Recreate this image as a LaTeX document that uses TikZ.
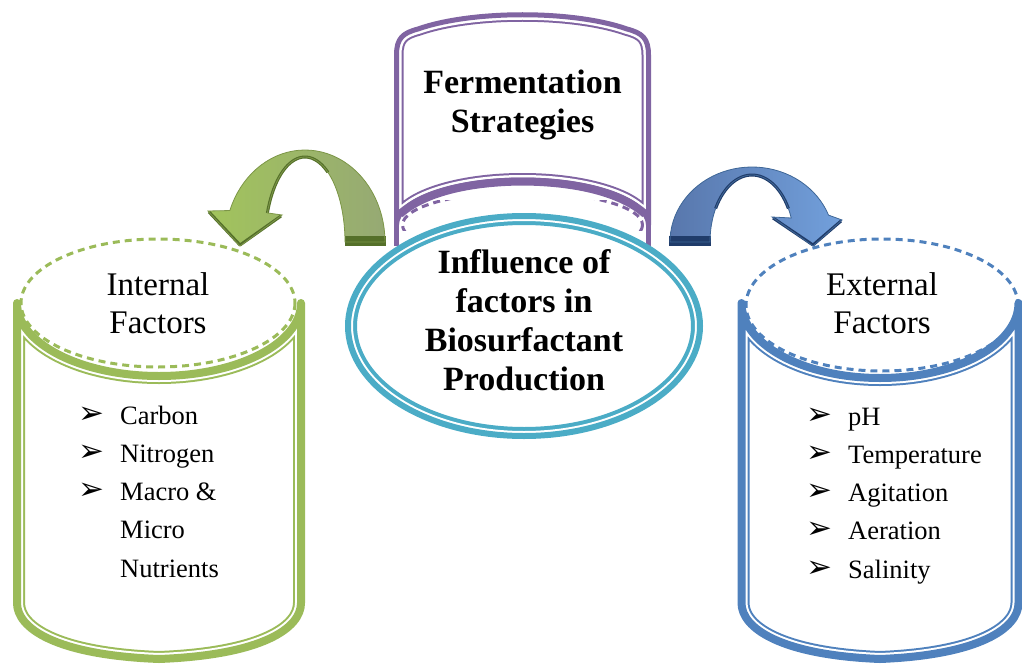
\documentclass[tikz,border=0pt]{standalone}
\usepackage{fontspec}
\setmainfont{Liberation Serif}
\newfontfamily\symfont{DejaVu Sans}
\definecolor{cgreen}{HTML}{9BBB59}
\definecolor{cgreenA}{HTML}{A2C45C}
\definecolor{cgreenB}{HTML}{96A974}
\definecolor{cgreenD}{HTML}{55702A}
\definecolor{cblue}{HTML}{4F81BD}
\definecolor{cblueA}{HTML}{5877AC}
\definecolor{cblueB}{HTML}{72A0DC}
\definecolor{cblueD}{HTML}{203C6A}
\definecolor{cpurple}{HTML}{8064A2}
\definecolor{ccyan}{HTML}{4BACC6}
% body with thick outer line, white gap and thin inner line
% #1 colour, #2 thick width, #3 clip-coloured width, #4 clip-white width, #5 path
\newcommand\canbody[5]{%
  \fill[white] #5;
  \begin{scope}
    \clip #5;
    \draw[#1, line width=#3] #5;
    \draw[white, line width=#4] #5;
  \end{scope}
  \draw[#1, line width=#2, line join=round] #5;
}
\newcommand\blt{\makebox[42pt][l]{\raisebox{1pt}{\symfont\fontsize{31}{31}\selectfont ➢}}}
\newcommand\nob{\hspace*{42pt}}
\begin{document}
\begin{tikzpicture}[x=1pt,y=-1pt,
  boldlbl/.style={font=\fontsize{34}{39}\selectfont\bfseries, align=center, inner sep=0pt, anchor=base},
  lbl/.style={font=\fontsize{33}{38}\selectfont, align=center, inner sep=0pt, anchor=base},
  lst/.style={font=\fontsize{26.5}{38.2}\selectfont, align=left, inner sep=0pt, anchor=base west},
  dashedtop/.style={line width=3pt, dash pattern=on 7pt off 5pt}]
\useasboundingbox (0,0) rectangle (1022,666);

% ---------- purple cylinder (Fermentation Strategies) ----------
\draw[cpurple, line width=5pt] (396.5,220) -- (396.5,246);
\draw[cpurple, line width=5pt] (648.5,220) -- (648.5,246);
\begin{scope}
  \clip (380,200) rectangle (670,230);
  \draw[cpurple, dashedtop] (522.5,225) ellipse [x radius=120, y radius=33];
\end{scope}
\canbody{cpurple}{5pt}{14pt}{10pt}{(396.5,225) -- (396.5,55) .. controls (396.5,38) and (403,33) .. (418,29) .. controls (472,10) and (573,10) .. (627,29) .. controls (642,33) and (648.5,38) .. (648.5,55) -- (648.5,225) .. controls (648.5,200.1) and (592.1,180) .. (522.5,180) .. controls (452.9,180) and (396.5,200.1) .. (396.5,225) -- cycle}
\draw[cpurple, line width=8pt] (400,214) .. controls (420,196) and (460,182) .. (522.5,181.5) .. controls (585,182) and (625,196) .. (645,214);

% ---------- central ellipse ----------
\canbody{ccyan}{6pt}{18pt}{10pt}{(524,326) ellipse [x radius=176, y radius=110]}

% ---------- left cylinder (Internal Factors) ----------
\canbody{cgreen}{8pt}{16pt}{12pt}{(17,303) .. controls (17,343.3) and (80.6,376) .. (159,376) .. controls (237.4,376) and (301,343.3) .. (301,303) -- (301,603) .. controls (301,628) and (263,655) .. (159,659) .. controls (55,655) and (17,628) .. (17,603) -- cycle}
\draw[cgreen, dashedtop] (158,303) ellipse [x radius=137, y radius=64];

% ---------- right cylinder (External Factors) ----------
\canbody{cblue}{8pt}{16pt}{12pt}{(741.5,303) .. controls (741.5,344.4) and (803.5,378) .. (880,378) .. controls (956.5,378) and (1018.5,344.4) .. (1018.5,303) -- (1018.5,603) .. controls (1018.5,628) and (980,655) .. (880,659) .. controls (780,655) and (741.5,628) .. (741.5,603) -- cycle}
\draw[cblue, dashedtop] (882,305) ellipse [x radius=136, y radius=66];

% ---------- green curved arrow ----------
\shade[left color=cgreenA, right color=cgreenB]
  plot[domain=0:160,samples=40] ({305+80*cos(\x)},{242-92*sin(\x)}) -- (208,211) -- (240,246) -- (282,215)
  -- plot[domain=160:0,samples=40] ({305+40*cos(\x)},{242-85*sin(\x)}) -- cycle;
\draw[cgreenD, line width=3pt] plot[domain=55:160,samples=30] ({305+40*cos(\x)},{242-85*sin(\x)});
\draw[cgreenD, line width=3pt, line join=round] (209,212) -- (240,245) -- (281,216);
\fill[cgreenD] (345,236) rectangle (386,246);
\draw[cgreen!80!black, line width=0.8pt]
  plot[domain=0:160,samples=40] ({305+80*cos(\x)},{242-92*sin(\x)}) -- (208,211) -- (240,246) -- (282,215)
  -- plot[domain=160:0,samples=40] ({305+40*cos(\x)},{242-85*sin(\x)}) -- cycle;

% ---------- blue curved arrow ----------
\shade[left color=cblueA, right color=cblueB]
  plot[domain=180:21,samples=40] ({752+82*cos(\x)},{242-75*sin(\x)}) -- (842,220) -- (813,246) -- (772,217)
  -- plot[domain=21:180,samples=40] ({752+42*cos(\x)},{242-67*sin(\x)}) -- cycle;
\draw[cblueD, line width=3pt] plot[domain=30:150,samples=30] ({752+42*cos(\x)},{242-67*sin(\x)});
\draw[cblueD, line width=3pt, line join=round] (773,218) -- (813,245) -- (841,221);
\fill[cblueD] (669,236) rectangle (711,246);
\draw[cblue!80!black, line width=0.8pt]
  plot[domain=180:21,samples=40] ({752+82*cos(\x)},{242-75*sin(\x)}) -- (842,220) -- (813,246) -- (772,217)
  -- plot[domain=21:180,samples=40] ({752+42*cos(\x)},{242-67*sin(\x)}) -- cycle;

% ---------- texts (anchor = baseline of the last line) ----------
\node[boldlbl] (ferm) at (522.5,132) {Fermentation\\Strategies};
\node[boldlbl] (infl) at (524,390) {Influence of\\factors in\\Biosurfactant\\Production};
\node[lbl] (intl) at (158,333) {Internal\\Factors};
\node[lbl] (extl) at (882,333) {External\\Factors};
\node[lst] (ilist) at (78,577) {\blt Carbon\\\blt Nitrogen\\\blt Macro \&\\\nob Micro\\\nob Nutrients};
\node[lst] (elist) at (806,578) {\blt pH\\\blt Temperature\\\blt Agitation\\\blt Aeration\\\blt Salinity};
\end{tikzpicture}
\end{document}
